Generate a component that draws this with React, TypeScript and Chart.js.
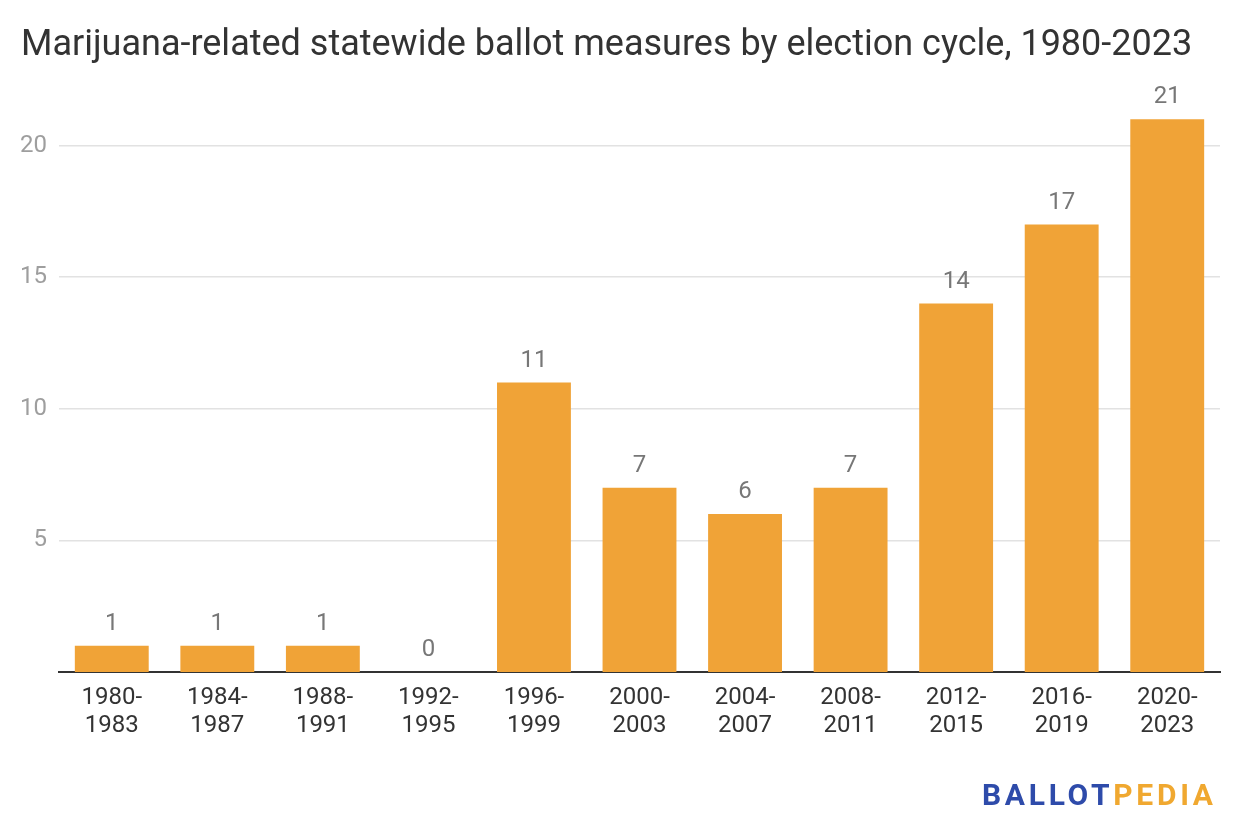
import React, { useEffect, useRef } from "react";
import { Chart, registerables } from "chart.js";

Chart.register(...registerables);

const categories: string[][] = [
  ["1980-", "1983"], ["1984-", "1987"], ["1988-", "1991"], ["1992-", "1995"],
  ["1996-", "1999"], ["2000-", "2003"], ["2004-", "2007"], ["2008-", "2011"],
  ["2012-", "2015"], ["2016-", "2019"], ["2020-", "2023"],
];
const measures: number[] = [1, 1, 1, 0, 11, 7, 6, 7, 14, 17, 21];
const yTicks: number[] = [5, 10, 15, 20];

const TITLE = "Marijuana-related statewide ballot measures by election cycle, 1980-2023";
const FONT = "Roboto, 'Noto Sans', sans-serif";

const valueLabels = {
  id: "valueLabels",
  afterDatasetsDraw(chart: any) {
    const ctx = chart.ctx;
    const meta = chart.getDatasetMeta(0);
    ctx.save();
    ctx.font = `24px ${FONT}`;
    ctx.fillStyle = "#777777";
    ctx.textAlign = "center";
    ctx.textBaseline = "middle";
    meta.data.forEach((bar: any, i: number) => {
      ctx.fillText(String(measures[i]), bar.x, bar.y - 22);
    });
    ctx.restore();
  },
};

export default function App() {
  const ref = useRef<HTMLCanvasElement>(null);
  useEffect(() => {
    document.body.style.margin = "0";
    const chart = new Chart(ref.current!, {
      type: "bar",
      data: {
        labels: categories,
        datasets: [
          {
            data: measures,
            backgroundColor: "#F0A337",
            categoryPercentage: 1,
            barPercentage: 0.7,
          },
        ],
      },
      options: {
        animation: false,
        responsive: false,
        layout: { padding: { top: 93, right: 20, bottom: 0, left: 0 } },
        plugins: { legend: { display: false }, tooltip: { enabled: false } },
        scales: {
          x: {
            grid: { display: false, drawTicks: false },
            border: { display: true, color: "#333333", width: 2 },
            ticks: {
              color: "#333333",
              font: { family: FONT, size: 24, lineHeight: 1.18 },
              padding: 12,
              maxRotation: 0,
              autoSkip: false,
            },
            afterFit: (s: any) => { s.height = 168; },
          },
          y: {
            min: 0,
            max: 22,
            grid: { color: "#E2E2E2", lineWidth: 1.5, drawTicks: false },
            border: { display: false },
            ticks: {
              color: "#9E9E9E",
              font: { family: FONT, size: 24 },
              padding: 12,
            },
            afterBuildTicks: (s: any) => {
              s.ticks = yTicks.map((v) => ({ value: v }));
            },
            afterFit: (s: any) => { s.width = 59; },
          },
        },
      },
      plugins: [valueLabels],
    });
    return () => chart.destroy();
  }, []);

  return (
    <div style={{ position: "absolute", left: 0, top: 0, width: 1240, height: 840, background: "#fff", fontFamily: FONT }}>
      <canvas ref={ref} width={1240} height={840} style={{ position: "absolute", left: 0, top: 0 }} />
      <div style={{ position: "absolute", left: 21, top: 20, fontSize: 36, color: "#333333", whiteSpace: "nowrap", lineHeight: "46px" }}>
        {TITLE}
      </div>
      <div style={{ position: "absolute", left: 982, top: 777, fontSize: 30, fontWeight: 700, letterSpacing: 3.7, whiteSpace: "nowrap", lineHeight: "36px" }}>
        <span style={{ color: "#2E4BAA" }}>BALLOT</span>
        <span style={{ color: "#F0A830" }}>PEDIA</span>
      </div>
    </div>
  );
}
